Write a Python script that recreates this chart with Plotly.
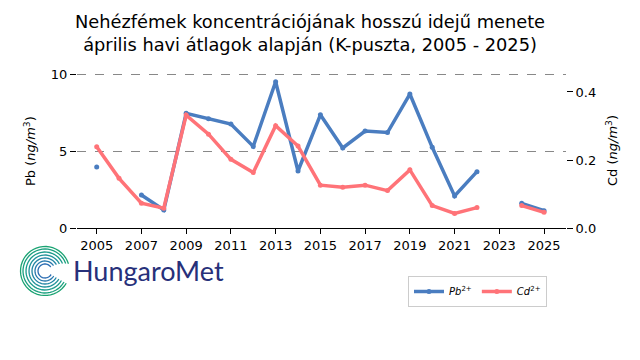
import math
import plotly.graph_objects as go

years = list(range(2005, 2026))
pb = [3.96, None, 2.14, 1.17, 7.45, 7.1, 6.75, 5.3, 9.5, 3.7, 7.35, 5.2, 6.3, 6.2, 8.7, 5.24, 2.08, 3.66, None, 1.6, 1.12]
cd = [0.239, 0.146, 0.073, 0.058, 0.332, 0.276, 0.202, 0.163, 0.301, 0.241, 0.126, 0.12, 0.126, 0.11, 0.171, 0.066, 0.043, 0.06, None, 0.066, 0.046]
x_ticks = list(range(2005, 2026, 2))
pb_ticks = [0, 5, 10]
cd_ticks = [0.0, 0.2, 0.4]

BLUE = "#4a7dc0"
RED = "#ff7378"
FONT = "DejaVu Sans"

L, R, T, B = 77, 566, 72, 228
W, H = 640, 360

def px(xp, yp):
    return (xp - L) / (R - L), (B - yp) / (B - T)

fig = go.Figure()
fig.add_trace(go.Scatter(x=years, y=pb, name="<i>Pb</i><sup>2+</sup>", mode="lines+markers",
                         line=dict(color=BLUE, width=3.5), marker=dict(size=5, color=BLUE),
                         connectgaps=False, yaxis="y"))
fig.add_trace(go.Scatter(x=years, y=cd, name="<i>Cd</i><sup>2+</sup>", mode="lines+markers",
                         line=dict(color=RED, width=3.5), marker=dict(size=5, color=RED),
                         connectgaps=False, yaxis="y2"))

shapes = []
# HungaroMet logo spiral arcs
cx, cy = 45, 271
radii = [7, 10, 13, 16, 19, 22, 24.5]
cols = ["#2a6cb2", "#2879ad", "#2386a5", "#1f929a", "#1b9b8c", "#18a07e", "#1aa372"]
for i, r in enumerate(radii):
    a0, a1 = 35 - i * 3, 330
    pts = []
    for k in range(0, 41):
        a = math.radians(a0 + (a1 - a0) * k / 40)
        xp = cx + r * math.cos(a)
        yp = cy - r * math.sin(a)
        pts.append(px(xp, yp))
    path = "M " + " L ".join(f"{p[0]:.4f},{p[1]:.4f}" for p in pts)
    shapes.append(dict(type="path", path=path, xref="paper", yref="paper",
                       line=dict(color=cols[i], width=1.3)))

annotations = [
    dict(text="Nehézfémek koncentrációjának hosszú idejű menete<br>április havi átlagok alapján (K-puszta, 2005 - 2025)",
         x=310, y=33, font=dict(family=FONT, size=17.8, color="black")),
    dict(text="Pb (<i>ng/m</i><sup>3</sup>)", x=30, y=151, textangle=-90,
         font=dict(family=FONT, size=13, color="black")),
    dict(text="Cd (<i>ng/m</i><sup>3</sup>)", x=612, y=151, textangle=-90,
         font=dict(family=FONT, size=13, color="black")),
    dict(text="HungaroMet", x=148, y=270,
         font=dict(family="Lato", size=27, color="#27307a")),
]
for a in annotations:
    a["x"], a["y"] = px(a["x"], a["y"])
    a.update(xref="paper", yref="paper", xanchor="center", yanchor="middle", showarrow=False)

fig.update_layout(
    width=W, height=H,
    margin=dict(l=L, r=W - R, t=T, b=H - B, autoexpand=False),
    paper_bgcolor="white", plot_bgcolor="white",
    font=dict(family=FONT, size=13, color="black"),
    xaxis=dict(range=[2004.12, 2025.98], tickvals=x_ticks, showgrid=False, zeroline=False,
               showline=True, linecolor="black", linewidth=1.2, ticks="outside", ticklen=5,
               tickcolor="black", tickfont=dict(size=13)),
    yaxis=dict(range=[0, 10.13], tickvals=pb_ticks, showgrid=True, gridcolor="#888888",
               griddash="dash", gridwidth=1, zeroline=False, showline=False,
               ticks="outside", ticklen=6, tickcolor="black", tickfont=dict(size=13)),
    yaxis2=dict(range=[0, 0.4588], tickvals=cd_ticks, tickformat=".1f", overlaying="y",
                side="right", showgrid=False, zeroline=False, showline=False,
                ticks="outside", ticklen=6, tickcolor="black", tickfont=dict(size=13)),
    legend=dict(orientation="h", x=px(408, 0)[0], y=px(0, 276)[1], xanchor="left", yanchor="top",
                bordercolor="#cccccc", borderwidth=1, font=dict(size=10), bgcolor="white",
                itemwidth=30, tracegroupgap=0),
    shapes=shapes, annotations=annotations,
)
fig.write_html("out.html", config={"displayModeBar": False},
               post_script="document.body.style.margin='0';")
